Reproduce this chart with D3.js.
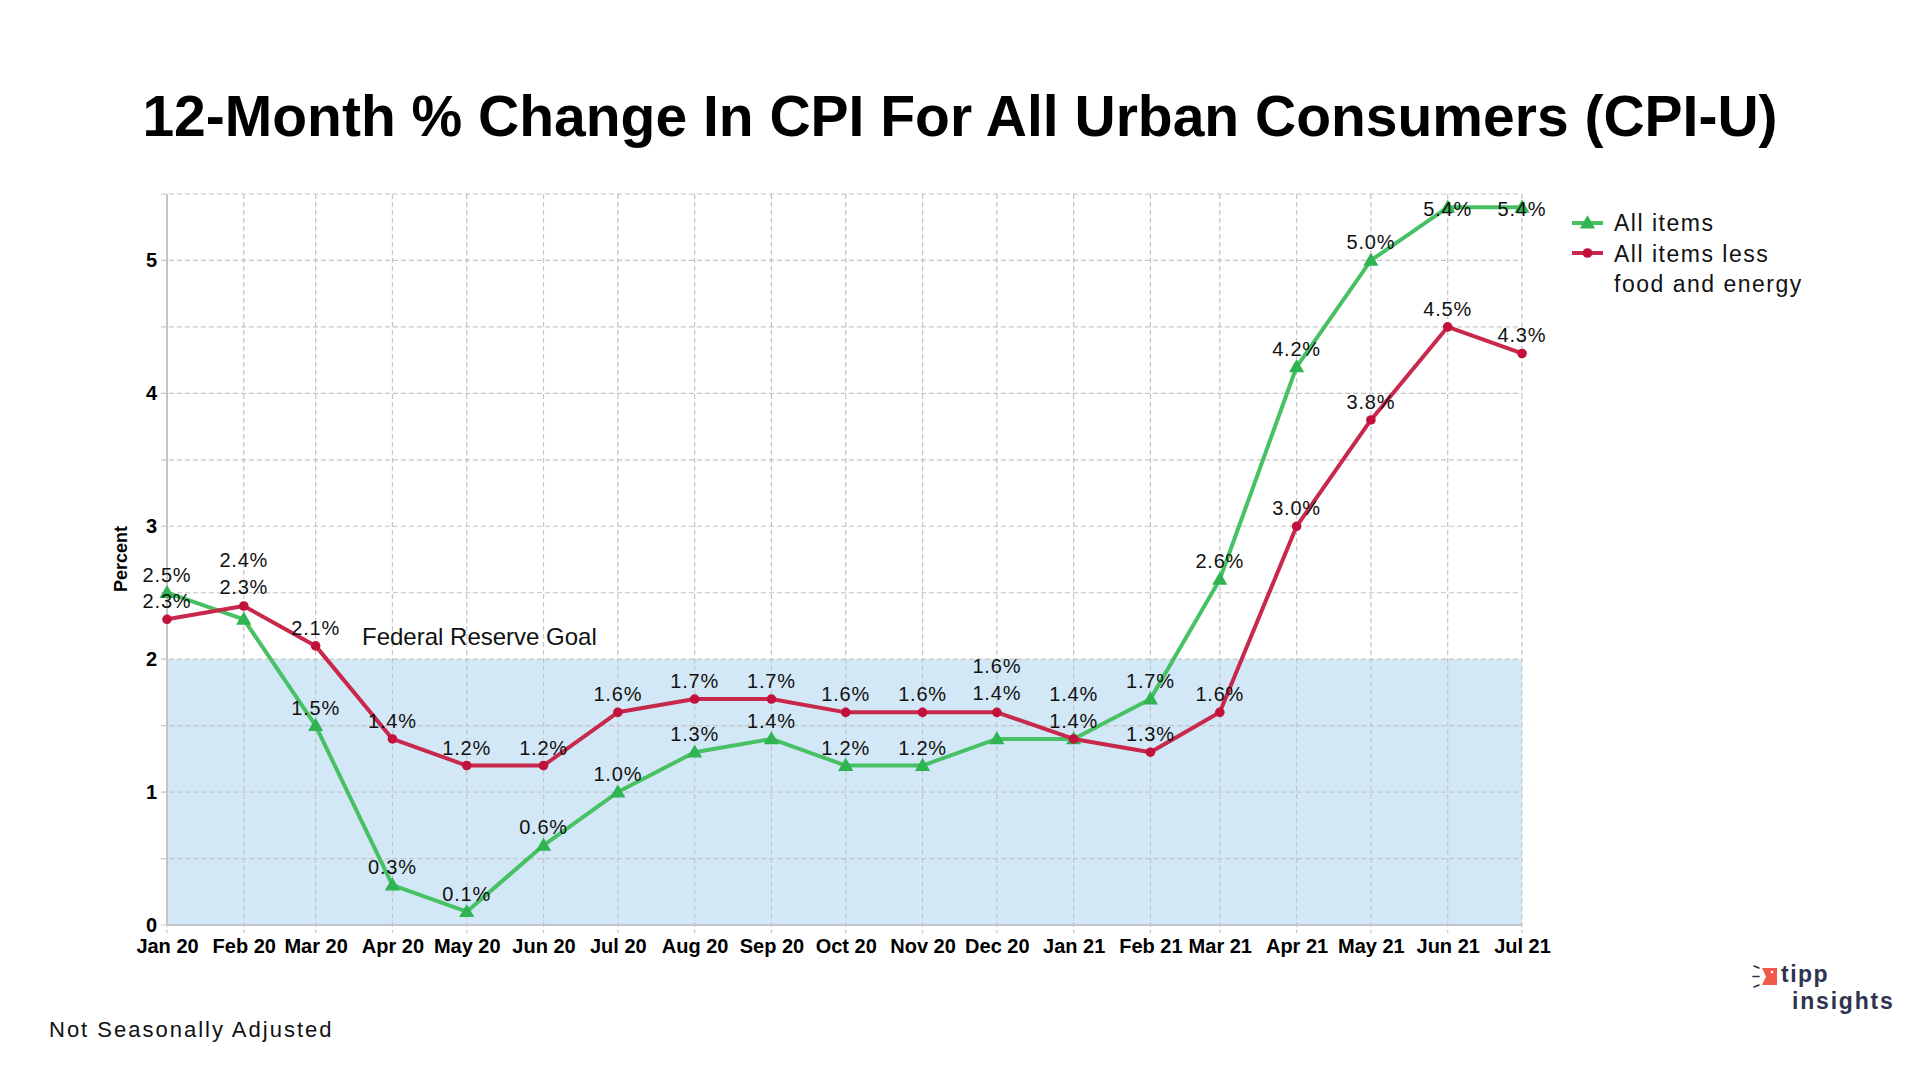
<!DOCTYPE html>
<html>
<head>
<meta charset="utf-8">
<script src="https://cdn.jsdelivr.net/npm/d3@7"></script>
<style>
  body { margin: 0; background: #fff; }
  text { font-family: "Liberation Sans", Arial, sans-serif; }
</style>
</head>
<body>
<div id="chart"></div>
<script>
var months = ["2020-01", "2020-02", "2020-03", "2020-04", "2020-05", "2020-06", "2020-07",
    "2020-08", "2020-09", "2020-10", "2020-11", "2020-12", "2021-01", "2021-02",
    "2021-03", "2021-04", "2021-05", "2021-06", "2021-07"];
var allItems = [2.5, 2.3, 1.5, 0.3, 0.1, 0.6, 1.0, 1.3, 1.4, 1.2, 1.2, 1.4, 1.4, 1.7, 2.6, 4.2, 5.0, 5.4, 5.4];
var coreItems = [2.3, 2.4, 2.1, 1.4, 1.2, 1.2, 1.6, 1.7, 1.7, 1.6, 1.6, 1.6, 1.4, 1.3, 1.6, 3.0, 3.8, 4.5, 4.3];
var yTicks = [0, 1, 2, 3, 4, 5];
var goal = 2;

var wt = 1920;
var ht = 1080;
var margin = { top: 194, right: 398, bottom: 155, left: 167 };
var width = wt - margin.left - margin.right;
var height = ht - margin.top - margin.bottom;

var parseMonth = d3.timeParse("%Y-%m");
var fmtTick = d3.timeFormat("%b %y");
var dates = months.map(parseMonth);

var svg = d3.select("#chart").append("svg")
    .attr("width", wt)
    .attr("height", ht);

svg.append("text")
    .attr("x", wt / 2)
    .attr("y", 136)
    .attr("text-anchor", "middle")
    .style("font-size", "57px")
    .style("font-weight", "bold")
    .attr("fill", "#000")
    .text("12-Month % Change In CPI For All Urban Consumers (CPI-U)");

var g = svg.append("g")
    .attr("transform", "translate(" + margin.left + "," + margin.top + ")");

var x = d3.scaleTime()
    .domain(d3.extent(dates))
    .range([0, width]);

var y = d3.scaleLinear()
    .domain([0, 5.5])
    .range([height, 0]);

// goal band
g.append("rect")
    .attr("x", 0)
    .attr("y", y(goal))
    .attr("width", width)
    .attr("height", y(0) - y(goal))
    .attr("fill", "#d2e8f6");

// grid
var halfSteps = d3.range(0, 5.51, 0.5);
g.append("g").selectAll("line").data(halfSteps).enter().append("line")
    .attr("x1", -6).attr("x2", width)
    .attr("y1", function (d) { return y(d); })
    .attr("y2", function (d) { return y(d); })
    .attr("stroke", "#c4c4c8")
    .attr("stroke-width", 1.2)
    .attr("stroke-dasharray", function (d) { return d === 0 ? null : "5,3"; });

g.append("g").selectAll("line").data(dates).enter().append("line")
    .attr("x1", function (d) { return x(d); })
    .attr("x2", function (d) { return x(d); })
    .attr("y1", 0).attr("y2", height + 8)
    .attr("stroke", "#c4c4c8")
    .attr("stroke-width", 1.2)
    .attr("stroke-dasharray", "5,3");

// axes
g.append("line")
    .attr("x1", 0).attr("x2", 0)
    .attr("y1", 0).attr("y2", height)
    .attr("stroke", "#c4c4cc")
    .attr("stroke-width", 2);
g.append("line")
    .attr("x1", 0).attr("x2", width)
    .attr("y1", height).attr("y2", height)
    .attr("stroke", "#c4c4cc")
    .attr("stroke-width", 2);

var yAxis = g.append("g")
    .attr("class", "axis axis--y")
    .call(d3.axisLeft(y).tickValues(yTicks).tickSize(0).tickPadding(10).tickFormat(d3.format("d")));
yAxis.select(".domain").remove();
yAxis.selectAll("text")
    .style("font-family", "Liberation Sans, Arial, sans-serif")
    .style("font-size", "20px")
    .style("font-weight", "bold")
    .attr("fill", "#000");

var xAxis = g.append("g")
    .attr("class", "axis axis--x")
    .attr("transform", "translate(0," + height + ")")
    .call(d3.axisBottom(x).tickValues(dates).tickSize(0).tickPadding(14).tickFormat(fmtTick));
xAxis.select(".domain").remove();
xAxis.selectAll("text")
    .style("font-family", "Liberation Sans, Arial, sans-serif")
    .style("font-size", "20px")
    .style("font-weight", "bold")
    .attr("dy", "0.71em")
    .attr("fill", "#000");

svg.append("text")
    .attr("transform", "translate(127,559) rotate(-90)")
    .attr("text-anchor", "middle")
    .style("font-size", "18px")
    .style("font-weight", "bold")
    .text("Percent");

g.append("text")
    .attr("x", 362 - margin.left)
    .attr("y", y(goal) - 14)
    .style("font-size", "24px")
    .attr("fill", "#111")
    .text("Federal Reserve Goal");

// series
var series = [
    { name: "All items", values: allItems, line: "#48c165", mark: "#2fb451", shape: "tri" },
    { name: "All items less food and energy", values: coreItems, line: "#c8284b", mark: "#c2113b", shape: "dot" }
];

var line = d3.line()
    .x(function (d, i) { return x(dates[i]); })
    .y(function (d) { return y(d); });

var triangle = d3.symbol().type(d3.symbolTriangle).size(100);

series.forEach(function (s) {
    g.append("path")
        .datum(s.values)
        .attr("class", "line")
        .attr("fill", "none")
        .attr("stroke", s.line)
        .attr("stroke-width", 4)
        .attr("stroke-linejoin", "round")
        .attr("d", line);

    var marks = g.append("g").selectAll("path").data(s.values).enter();
    if (s.shape === "tri") {
        marks.append("path")
            .attr("d", triangle)
            .attr("transform", function (d, i) { return "translate(" + x(dates[i]) + "," + (y(d) + 1) + ")"; })
            .attr("fill", s.mark);
    } else {
        marks.append("circle")
            .attr("cx", function (d, i) { return x(dates[i]); })
            .attr("cy", function (d) { return y(d); })
            .attr("r", 4.8)
            .attr("fill", s.mark);
    }
});

// data labels: first series avoids other markers, later ones avoid placed labels
var labelUp = 20, labelDown = 6, markR = 5;
var placed = dates.map(function () { return []; });
series.forEach(function (s, si) {
    s.values.forEach(function (v, i) {
        var py = y(v);
        var b = py - 11;
        var obstacles = placed[i].slice();
        if (si === 0) {
            series.forEach(function (o, oi) {
                if (oi !== si) {
                    var oy = y(o.values[i]);
                    obstacles.push([oy - markR, oy + markR]);
                }
            });
        }
        var moved = true;
        while (moved) {
            moved = false;
            obstacles.forEach(function (ob) {
                if (b - labelUp < ob[1] && b + labelDown > ob[0]) {
                    b = ob[0] - labelDown - 1;
                    moved = true;
                }
            });
        }
        if (b - labelUp < 0) b = labelUp + 2;
        placed[i].push([b - labelUp, b + labelDown]);
        g.append("text")
            .attr("x", x(dates[i]))
            .attr("y", b)
            .attr("text-anchor", "middle")
            .style("font-size", "20px")
            .style("letter-spacing", "0.8px")
            .attr("fill", "#111")
            .text(d3.format(".1f")(v) + "%");
    });
});

// legend
var legend = svg.append("g").attr("transform", "translate(1572,223)");
legend.append("line").attr("x1", 0).attr("x2", 31).attr("y1", 0).attr("y2", 0)
    .attr("stroke", series[0].line).attr("stroke-width", 4);
legend.append("path").attr("d", triangle).attr("transform", "translate(15.5,1)").attr("fill", series[0].mark);
legend.append("line").attr("x1", 0).attr("x2", 31).attr("y1", 30).attr("y2", 30)
    .attr("stroke", series[1].line).attr("stroke-width", 4);
legend.append("circle").attr("cx", 15.5).attr("cy", 30).attr("r", 4.8).attr("fill", series[1].mark);
var legendLines = ["All items", "All items less", "food and energy"];
legend.selectAll("text.lg").data(legendLines).enter().append("text")
    .attr("class", "lg")
    .attr("x", 42)
    .attr("y", function (d, i) { return 8 + i * 30.5; })
    .style("font-size", "23px")
    .style("letter-spacing", "1.5px")
    .attr("fill", "#111")
    .text(function (d) { return d; });

svg.append("text")
    .attr("x", 49)
    .attr("y", 1037)
    .style("font-size", "22px")
    .style("letter-spacing", "2px")
    .attr("fill", "#111")
    .text("Not Seasonally Adjusted");

// logo
var logo = svg.append("g").attr("transform", "translate(1762,968)");
logo.append("path")
    .attr("d", "M0,0 L15,0 L15,17 L0,17 L4,8.5 Z")
    .attr("fill", "#ef5a4a");
logo.append("circle").attr("cx", 10).attr("cy", 4).attr("r", 1.3).attr("fill", "#fff");
[[-3, 0, -8, -2], [-3, 8.5, -9, 8.5], [-3, 17, -8, 19]].forEach(function (l) {
    logo.append("line").attr("x1", l[0]).attr("y1", l[1]).attr("x2", l[2]).attr("y2", l[3])
        .attr("stroke", "#2e3350").attr("stroke-width", 1.6).attr("stroke-linecap", "round");
});
logo.append("text").attr("x", 19).attr("y", 14)
    .style("font-size", "23px").style("font-weight", "bold").style("letter-spacing", "1.5px")
    .attr("fill", "#2e3350").text("tipp");
logo.append("text").attr("x", 30).attr("y", 41)
    .style("font-size", "23px").style("font-weight", "bold").style("letter-spacing", "1.8px")
    .attr("fill", "#2e3350").text("insights");
</script>
</body>
</html>
